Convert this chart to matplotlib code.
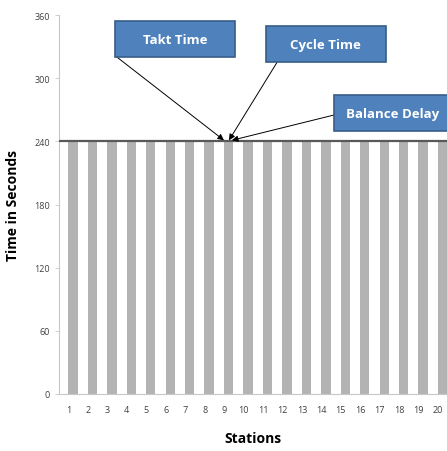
import numpy as np
import matplotlib
matplotlib.use("Agg")
import matplotlib.pyplot as plt
import matplotlib.transforms as mtransforms
from matplotlib.patches import Rectangle

stations = list(range(1, 21))
times = [240] * 20
takt_time = 240
yticks = [0, 60, 120, 180, 240, 300, 360]

plt.rcParams['font.family'] = ['Open Sans', 'DejaVu Sans']

fig = plt.figure(figsize=(4.47, 4.52), dpi=100)
ax = fig.add_axes([59 / 447, 1 - 395 / 452, 1 - 59 / 447, (395 - 16) / 452])

ax.bar(stations, times, width=0.48, color='#b3b3b3', zorder=2)
ax.axhline(takt_time, color='#595959', lw=1.6, zorder=3)

ax.set_xlim(0.28, 20.23)
ax.set_ylim(0, 360)
ax.set_yticks(yticks)
ax.set_xticks(stations)
ax.tick_params(axis='both', labelsize=6.5, colors='#404040', length=3, width=0.6)
ax.tick_params(axis='x', length=0, pad=8)
for s in ['top', 'right']:
    ax.spines[s].set_visible(False)
ax.spines['left'].set_color('#c8c8c8')
ax.spines['bottom'].set_color('#c8c8c8')
ax.tick_params(axis='y', color='#c8c8c8', labelcolor='#404040')

# labels sit a little left of the bars in the original
shift = mtransforms.ScaledTranslation(-0.045, 0, fig.dpi_scale_trans)
for lab in ax.get_xticklabels():
    lab.set_transform(lab.get_transform() + shift)

ax.set_xlabel('Stations', fontsize=10, fontweight='bold', labelpad=12)
ax.set_ylabel('Time in Seconds', fontsize=10, fontweight='bold', labelpad=10)

# callout boxes (data coords)
boxes = [
    ('Takt Time', 3.16, 320, 6.17, 34),
    ('Cycle Time', 10.92, 315.4, 6.17, 34),
    ('Balance Delay', 14.42, 249.8, 6.17, 34),
]
for label, x0, y0, w, h in boxes:
    ax.add_patch(Rectangle((x0, y0), w, h, facecolor='#4f81bd', edgecolor='#385d8a',
                           lw=1.2, zorder=5, clip_on=False))
    cx = x0 + w / 2 if label != 'Balance Delay' else x0 + 3.0
    ax.text(cx, y0 + h / 2, label, color='white', fontsize=9.5, fontweight='bold',
            ha='center', va='center', zorder=6, clip_on=False)

arrows = [
    ((3.26, 320), (8.76, 241)),
    ((11.49, 315), (9.02, 241)),
    ((14.42, 265), (9.17, 241)),
]
for tail, head in arrows:
    ax.annotate('', xy=head, xytext=tail,
                arrowprops=dict(arrowstyle='-|>', color='black', lw=0.7,
                                mutation_scale=9, shrinkA=0, shrinkB=0), zorder=4)

fig.savefig('out.png', dpi=100)
